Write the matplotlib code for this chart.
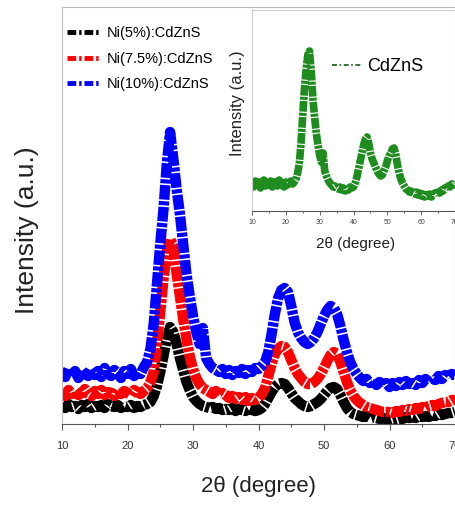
import numpy as np
import matplotlib
matplotlib.use("Agg")
import matplotlib.pyplot as plt

plt.rcParams['font.family'] = ['Liberation Sans', 'DejaVu Sans']

# 2-theta grid, 0.5 degree steps from 10 to 70
two_theta = np.arange(10, 70.5, 0.5)

# main plot, intensity in arbitrary units
ni10 = [52, 47, 55, 49, 53, 46, 54, 50, 48, 55,
        49, 53, 47, 56, 50, 48, 54, 51, 46, 53,
        50, 55, 48, 52, 50, 57, 62, 75, 100, 140,
        180, 215, 260, 292, 265, 235, 210, 180, 150, 128,
        108, 92, 80, 96, 66, 60, 56, 54, 52, 55,
        50, 54, 49, 53, 51, 55, 50, 54, 52, 56,
        55, 58, 62, 72, 90, 110, 126, 134, 136, 132,
        118, 102, 92, 86, 82, 80, 82, 86, 92, 100,
        108, 114, 118, 116, 110, 98, 84, 72, 62, 55,
        50, 46, 43, 45, 41, 44, 39, 42, 38, 41,
        37, 41, 38, 42, 39, 43, 40, 41, 39, 44,
        41, 45, 42, 46, 44, 48, 45, 49, 47, 50,
        49]
ni75 = [32, 28, 34, 30, 33, 29, 31, 35, 30, 28,
        33, 30, 34, 29, 32, 31, 28, 34, 30, 33,
        31, 29, 34, 32, 30, 33, 36, 42, 52, 80,
        112, 145, 172, 185, 178, 150, 128, 105, 85, 68,
        55, 46, 40, 36, 34, 32, 30, 33, 29, 31,
        29, 26, 28, 25, 27, 24, 27, 23, 26, 24,
        26, 30, 36, 48, 60, 70, 75, 78, 77, 72,
        64, 56, 50, 46, 42, 40, 40, 42, 45, 50,
        56, 63, 69, 72, 70, 62, 52, 42, 34, 28,
        24, 21, 19, 17, 16, 15, 14, 13, 12, 12,
        12, 11, 13, 12, 14, 13, 15, 14, 16, 15,
        17, 16, 18, 19, 18, 20, 21, 22, 22, 24,
        24]
ni5 = [19, 16, 20, 17, 18, 15, 19, 17, 20, 16,
       18, 17, 19, 16, 20, 18, 17, 19, 16, 18,
       17, 19, 16, 18, 17, 19, 20, 22, 28, 38,
       52, 68, 85, 97, 92, 80, 66, 54, 42, 34,
       27, 23, 20, 18, 17, 16, 17, 15, 16, 14,
       15, 14, 16, 13, 15, 14, 13, 15, 14, 13,
       14, 16, 20, 26, 32, 37, 40, 41, 40, 36,
       31, 26, 23, 20, 18, 17, 18, 20, 22, 25,
       29, 33, 36, 37, 35, 29, 22, 16, 12, 10,
       9, 8, 7, 8, 6, 7, 6, 5, 6, 5,
       5, 6, 5, 6, 5, 7, 6, 7, 6, 8,
       7, 8, 7, 9, 8, 10, 9, 10, 11, 11,
       12]

# inset
cdzns = [28, 24, 30, 26, 29, 23, 27, 31, 25, 28,
         26, 30, 24, 29, 27, 25, 31, 26, 28, 24,
         29, 26, 28, 30, 27, 29, 32, 38, 48, 68,
         96, 122, 142, 156, 160, 140, 112, 94, 78, 66,
         56, 49, 58, 40, 35, 31, 28, 26, 24, 25,
         23, 22, 24, 21, 23, 20, 22, 21, 24, 23,
         24, 28, 34, 42, 50, 58, 66, 72, 74, 68,
         58, 52, 48, 44, 40, 37, 35, 36, 40, 44,
         50, 55, 58, 62, 63, 56, 46, 38, 32, 28,
         25, 22, 21, 19, 20, 18, 17, 19, 16, 18,
         15, 17, 14, 16, 15, 17, 14, 16, 18, 17,
         19, 18, 21, 20, 23, 22, 25, 24, 27, 26,
         28]

series = [("Ni(5%):CdZnS", ni5, "black"),
          ("Ni(7.5%):CdZnS", ni75, "#ff0000"),
          ("Ni(10%):CdZnS", ni10, "#0000ff")]
xticks = [10, 20, 30, 40, 50, 60, 70]

fig = plt.figure(figsize=(4.55, 5.05), dpi=100)
ax = fig.add_axes([62/455, 81/505, 393/455, 417/505])

for label, vals, col in series:
    ax.plot(two_theta, vals, color=col, lw=7.5, label=label,
            dashes=(1.4, 0.15, 0.4, 0.15))

ax.set_xlim(10, 70)
ax.set_ylim(0, 417)
ax.set_yticks([])
ax.set_xticks(xticks)
ax.set_xticks(np.arange(15, 70, 10), minor=True)
ax.tick_params(axis="x", which="major", direction="out", length=4, width=0.8,
               colors="#555555", labelsize=8, labelcolor="#333333", pad=8)
ax.tick_params(axis="x", which="minor", direction="out", length=2, width=0.8, colors="#555555")
for s in ["left", "top", "right"]:
    ax.spines[s].set_color("#bbbbbb")
    ax.spines[s].set_linewidth(0.8)
ax.spines["bottom"].set_color("#555555")
ax.set_xlabel("2θ (degree)", fontsize=16, color="#222222")
ax.xaxis.set_label_coords(0.5, -0.125)
ax.set_ylabel("Intensity (a.u.)", fontsize=19, color="#222222")
ax.yaxis.set_label_coords(-0.058, 0.465)

leg = ax.legend(loc="upper left", bbox_to_anchor=(-0.02, 0.985), frameon=False,
                fontsize=10.5, handlelength=2.2, handletextpad=0.5, labelspacing=0.77)
for h in leg.legend_handles:
    h.set_linewidth(3.5)
    h.set_dashes((1.8, 0.6, 0.5, 0.6))

# inset
ins = fig.add_axes([252/455, 294/505, 203/455, 201/505])
ins.plot(two_theta, cdzns, color="#1e8c1e", lw=5.5, label="CdZnS",
         dashes=(1.4, 0.15, 0.4, 0.15))
ins.set_xlim(10, 70)
ins.set_ylim(0, 201)
ins.set_yticks([])
ins.set_xticks(xticks)
ins.set_xticks(np.arange(15, 70, 10), minor=True)
ins.tick_params(axis="x", which="major", direction="out", length=3, width=0.6,
                colors="#555555", labelsize=5, labelcolor="#444444", pad=3)
ins.tick_params(axis="x", which="minor", direction="out", length=1.5, width=0.6, colors="#555555")
for s in ["left", "top", "right"]:
    ins.spines[s].set_color("#cccccc")
    ins.spines[s].set_linewidth(0.8)
ins.spines["bottom"].set_color("#555555")
ins.set_xlabel("2θ (degree)", fontsize=11, color="#222222")
ins.xaxis.set_label_coords(0.512, -0.13)
ins.set_ylabel("Intensity (a.u.)", fontsize=12, color="#222222")
ins.yaxis.set_label_coords(-0.035, 0.537)
ileg = ins.legend(loc="upper left", bbox_to_anchor=(0.316, 0.84), frameon=False,
                  fontsize=13, handlelength=1.6, handletextpad=0.3)
for h in ileg.legend_handles:
    h.set_color("#1a5c1a")
    h.set_linewidth(1.2)
    h.set_dashes((3, 1.5, 1, 1.5))

fig.savefig("out.png", dpi=100)
